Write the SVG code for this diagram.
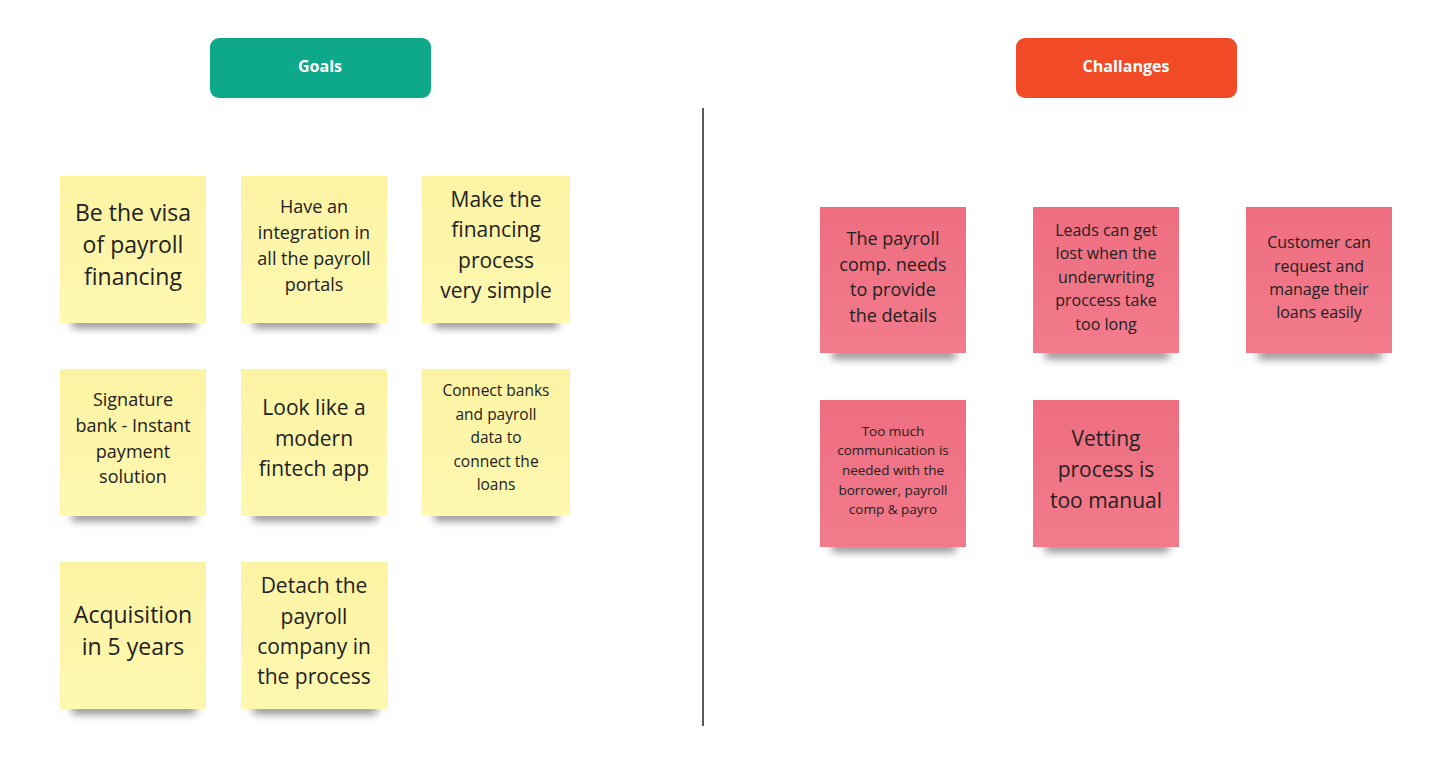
<svg xmlns="http://www.w3.org/2000/svg" width="1432" height="762" viewBox="0 0 1432 762">
<style>
text{font-family:"Open Sans","Liberation Sans",sans-serif;fill:#222;text-anchor:middle}
.y{fill:#fdf6a8}.r{fill:#f07183}
.sh{fill:#000;opacity:.45;filter:url(#b)}
.h{fill:#fff;font-weight:bold;font-size:16px}
</style>
<defs><filter id="b" x="-20%" y="-100%" width="140%" height="300%"><feGaussianBlur stdDeviation="4"/></filter>
<linearGradient id="gy" x1="0" y1="0" x2="0" y2="1"><stop offset="0" stop-color="#fcf3a3"/><stop offset="1" stop-color="#fef8b0"/></linearGradient>
<linearGradient id="gr" x1="0" y1="0" x2="0" y2="1"><stop offset="0" stop-color="#ee6e80"/><stop offset="1" stop-color="#f27b8b"/></linearGradient></defs>
<g id="goals"><rect x="210" y="38" width="221" height="60" rx="9" fill="#0ea88a"/><text class="h" x="320" y="72">Goals</text></g>
<g id="challanges"><rect x="1016" y="38" width="221" height="60" rx="9" fill="#f04a27"/><text class="h" x="1126" y="72">Challanges</text></g>
<g id="connectors"><line x1="703" y1="108" x2="703" y2="726" stroke="#222" stroke-width="1.5"/></g>
<g id="y1"><rect class="sh" x="72" y="318" width="124" height="10"/><rect x="60" y="176" width="146" height="147" fill="url(#gy)"/><text font-size="23"><tspan x="133" y="221">Be the visa</tspan><tspan x="133" y="253">of payroll</tspan><tspan x="133" y="285">financing</tspan></text></g>
<g id="y2"><rect class="sh" x="253" y="318" width="124" height="10"/><rect x="241" y="176" width="146" height="147" fill="url(#gy)"/><text font-size="18"><tspan x="314" y="213">Have an</tspan><tspan x="314" y="239">integration in</tspan><tspan x="314" y="265">all the payroll</tspan><tspan x="314" y="291">portals</tspan></text></g>
<g id="y3"><rect class="sh" x="434" y="318" width="124" height="10"/><rect x="422" y="176" width="148" height="147" fill="url(#gy)"/><text font-size="21"><tspan x="496" y="207">Make the</tspan><tspan x="496" y="237">financing</tspan><tspan x="496" y="268">process</tspan><tspan x="496" y="298">very simple</tspan></text></g>
<g id="y4"><rect class="sh" x="72" y="511" width="124" height="10"/><rect x="60" y="369" width="146" height="147" fill="url(#gy)"/><text font-size="18"><tspan x="133" y="406">Signature</tspan><tspan x="133" y="432">bank - Instant</tspan><tspan x="133" y="458">payment</tspan><tspan x="133" y="483">solution</tspan></text></g>
<g id="y5"><rect class="sh" x="253" y="511" width="124" height="10"/><rect x="241" y="369" width="146" height="147" fill="url(#gy)"/><text font-size="21"><tspan x="314" y="415">Look like a</tspan><tspan x="314" y="446">modern</tspan><tspan x="314" y="476">fintech app</tspan></text></g>
<g id="y6"><rect class="sh" x="434" y="511" width="124" height="10"/><rect x="422" y="369" width="148" height="147" fill="url(#gy)"/><text font-size="15.5"><tspan x="496" y="396">Connect banks</tspan><tspan x="496" y="420">and payroll</tspan><tspan x="496" y="443">data to</tspan><tspan x="496" y="467">connect the</tspan><tspan x="496" y="490">loans</tspan></text></g>
<g id="y7"><rect class="sh" x="72" y="704" width="124" height="10"/><rect x="60" y="562" width="146" height="147" fill="url(#gy)"/><text font-size="23"><tspan x="133" y="623">Acquisition</tspan><tspan x="133" y="655">in 5 years</tspan></text></g>
<g id="y8"><rect class="sh" x="253" y="704" width="124" height="10"/><rect x="241" y="562" width="147" height="147" fill="url(#gy)"/><text font-size="21"><tspan x="314" y="593">Detach the</tspan><tspan x="314" y="624">payroll</tspan><tspan x="314" y="654">company in</tspan><tspan x="314" y="684">the process</tspan></text></g>
<g id="r1"><rect class="sh" x="832" y="349" width="124" height="10"/><rect x="820" y="207" width="146" height="146" fill="url(#gr)"/><text font-size="18"><tspan x="893" y="245">The payroll</tspan><tspan x="893" y="271">comp. needs</tspan><tspan x="893" y="296">to provide</tspan><tspan x="893" y="322">the details</tspan></text></g>
<g id="r2"><rect class="sh" x="1045" y="349" width="124" height="10"/><rect x="1033" y="207" width="146" height="146" fill="url(#gr)"/><text font-size="16"><tspan x="1106" y="236">Leads can get</tspan><tspan x="1106" y="259">lost when the</tspan><tspan x="1106" y="283">underwriting</tspan><tspan x="1106" y="306">proccess take</tspan><tspan x="1106" y="330">too long</tspan></text></g>
<g id="r3"><rect class="sh" x="1258" y="349" width="124" height="10"/><rect x="1246" y="207" width="146" height="146" fill="url(#gr)"/><text font-size="16"><tspan x="1319" y="248">Customer can</tspan><tspan x="1319" y="272">request and</tspan><tspan x="1319" y="295">manage their</tspan><tspan x="1319" y="318">loans easily</tspan></text></g>
<g id="r4"><rect class="sh" x="832" y="542" width="124" height="10"/><rect x="820" y="400" width="146" height="147" fill="url(#gr)"/><text font-size="13.5"><tspan x="893" y="436">Too much</tspan><tspan x="893" y="455">communication is</tspan><tspan x="893" y="475">needed with the</tspan><tspan x="893" y="495">borrower, payroll</tspan><tspan x="893" y="514">comp &amp; payro</tspan></text></g>
<g id="r5"><rect class="sh" x="1045" y="542" width="124" height="10"/><rect x="1033" y="400" width="146" height="147" fill="url(#gr)"/><text font-size="21"><tspan x="1106" y="446">Vetting</tspan><tspan x="1106" y="477">process is</tspan><tspan x="1106" y="508">too manual</tspan></text></g>
</svg>
